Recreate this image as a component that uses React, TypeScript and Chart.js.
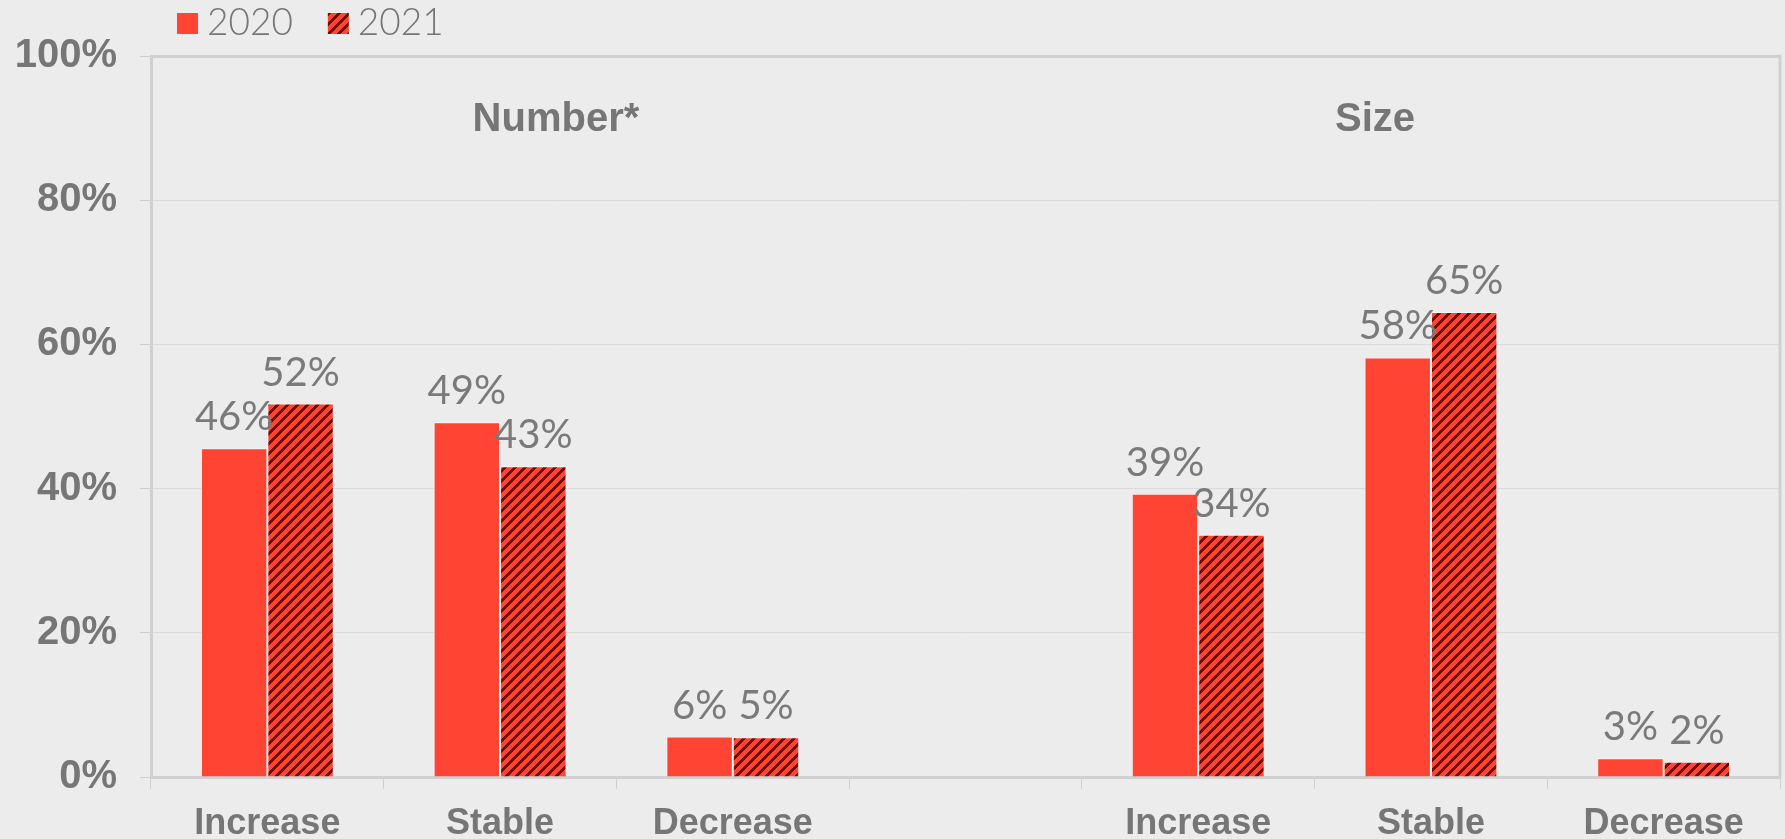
import React, { useEffect, useRef } from 'react';
import { Chart, registerables } from 'chart.js';

Chart.register(...registerables);

const categories = ['Increase', 'Stable', 'Decrease', '', 'Increase', 'Stable', 'Decrease'];
const seriesNames = ['2020', '2021'];
const series2020 = [45.6, 49.2, 5.6, null, 39.3, 58.2, 2.6];
const series2021 = [51.8, 43.1, 5.5, null, 33.6, 64.5, 2.1];
const labels2020 = ['46%', '49%', '6%', '', '39%', '58%', '3%'];
const labels2021 = ['52%', '43%', '5%', '', '34%', '65%', '2%'];
const groupTitles = ['Number*', 'Size'];
const yTickValues = [0, 20, 40, 60, 80, 100];

const RED = '#ff4433';
const DARK = '#720d03';
const AXIS = '#d0d0d0';
const GRID = '#dadada';
const TEXT = '#767676';
const BG = '#ececec';

export default function App() {
  const ref = useRef<HTMLCanvasElement>(null);

  useEffect(() => {
    document.body.style.margin = '0';
    document.body.style.background = BG;
    const canvas = ref.current!;
    const ctx = canvas.getContext('2d')!;

    const P = 10;
    const tile = document.createElement('canvas');
    tile.width = P;
    tile.height = P;
    const t = tile.getContext('2d')!;
    t.fillStyle = RED;
    t.fillRect(0, 0, P, P);
    t.fillStyle = DARK;
    for (let y = 0; y < P; y++) {
      for (let x = 0; x < P; x++) {
        if ((x + y) % P < 4) t.fillRect(x, y, 1, 1);
      }
    }
    const pattern = ctx.createPattern(tile, 'repeat')!;
    const fills = [RED, pattern];
    const valueLabels = [labels2020, labels2021];

    const bgPlugin = {
      id: 'bg',
      beforeDraw(chart: any) {
        const c = chart.ctx;
        c.save();
        c.fillStyle = BG;
        c.fillRect(0, 0, chart.width, chart.height);
        c.restore();
      },
    };

    const framePlugin = {
      id: 'frame',
      beforeDatasetsDraw(chart: any) {
        const c = chart.ctx;
        const a = chart.chartArea;
        c.save();
        c.strokeStyle = AXIS;
        c.lineWidth = 3;
        c.beginPath();
        c.moveTo(a.right, a.top - 1.5);
        c.lineTo(a.right, a.bottom);
        c.stroke();
        c.restore();
      },
    };

    const labelPlugin = {
      id: 'valueLabels',
      afterDatasetsDraw(chart: any) {
        const c = chart.ctx;
        c.save();
        c.font = '400 40px Lato';
        c.fillStyle = '#7a7a7a';
        c.textAlign = 'center';
        c.textBaseline = 'alphabetic';
        chart.data.datasets.forEach((_ds: any, i: number) => {
          const meta = chart.getDatasetMeta(i);
          meta.data.forEach((el: any, j: number) => {
            const txt = valueLabels[i][j];
            if (!txt) return;
            c.fillText(txt, el.x, el.y - 18);
          });
        });
        c.restore();
      },
    };

    const titlePlugin = {
      id: 'groupTitles',
      afterDatasetsDraw(chart: any) {
        const c = chart.ctx;
        const xs = chart.scales.x;
        const ys = chart.scales.y;
        const anchors = [1.24, 4.76];
        c.save();
        c.font = 'bold 40px "Liberation Sans", Arial, sans-serif';
        c.fillStyle = TEXT;
        c.textAlign = 'center';
        c.textBaseline = 'alphabetic';
        groupTitles.forEach((g, i) => {
          c.fillText(g, xs.getPixelForValue(anchors[i]), ys.getPixelForValue(89.6));
        });
        c.restore();
      },
    };

    const legendPlugin = {
      id: 'customLegend',
      afterDraw(chart: any) {
        const c = chart.ctx;
        c.save();
        c.font = '300 37px Lato';
        c.textBaseline = 'alphabetic';
        c.textAlign = 'left';
        let x = 177;
        seriesNames.forEach((name, i) => {
          c.fillStyle = fills[i] as any;
          c.fillRect(x, 13, 21, 21);
          c.fillStyle = TEXT;
          c.fillText(name, x + 30, 35);
          x += 30 + c.measureText(name).width + 35;
        });
        c.restore();
      },
    };

    const chart = new Chart(ctx, {
      type: 'bar',
      data: {
        labels: categories,
        datasets: [
          {
            label: seriesNames[0],
            data: series2020,
            backgroundColor: RED,
            borderColor: 'rgba(255,255,255,0.55)',
            borderWidth: 1,
          },
          {
            label: seriesNames[1],
            data: series2021,
            backgroundColor: pattern as any,
            borderColor: 'rgba(255,255,255,0.55)',
            borderWidth: 1,
          },
        ],
      },
      options: {
        responsive: false,
        animation: false,
        layout: { padding: { top: 56, right: 5, left: 0, bottom: 0 } },
        datasets: { bar: { categoryPercentage: 0.571, barPercentage: 1 } } as any,
        plugins: {
          legend: { display: false },
          tooltip: { enabled: false },
        },
        scales: {
          x: {
            grid: {
              offset: true,
              drawOnChartArea: false,
              drawTicks: true,
              tickLength: 12,
              color: AXIS,
              lineWidth: 1,
            },
            border: { display: true, width: 3, color: AXIS },
            ticks: {
              font: { family: '"Liberation Sans", Arial, sans-serif', weight: 'bold', size: 36 },
              color: TEXT,
              padding: 13,
              autoSkip: false,
              maxRotation: 0,
            },
            afterFit: (s: any) => {
              s.height = 62;
            },
          },
          y: {
            min: 0,
            max: 100,
            afterBuildTicks: (s: any) => {
              s.ticks = yTickValues.map((v) => ({ value: v }));
            },
            ticks: {
              callback: (v: any) => v + '%',
              font: { family: '"Liberation Sans", Arial, sans-serif', weight: 'bold', size: 40 },
              color: TEXT,
              padding: 23,
            },
            grid: {
              color: (c: any) => (c.tick && c.tick.value === 100 ? AXIS : GRID),
              lineWidth: (c: any) => (c.tick && c.tick.value === 100 ? 3 : 1),
              tickLength: 11,
              tickColor: AXIS,
              tickWidth: 1,
            },
            border: { display: true, width: 3, color: AXIS },
            afterFit: (s: any) => {
              s.width = 151;
            },
          },
        } as any,
      },
      plugins: [bgPlugin, framePlugin, labelPlugin, titlePlugin, legendPlugin],
    });

    return () => chart.destroy();
  }, []);

  return (
    <div style={{ width: 1785, height: 839, background: BG }}>
      <canvas ref={ref} width={1785} height={839} style={{ display: 'block' }} />
    </div>
  );
}
